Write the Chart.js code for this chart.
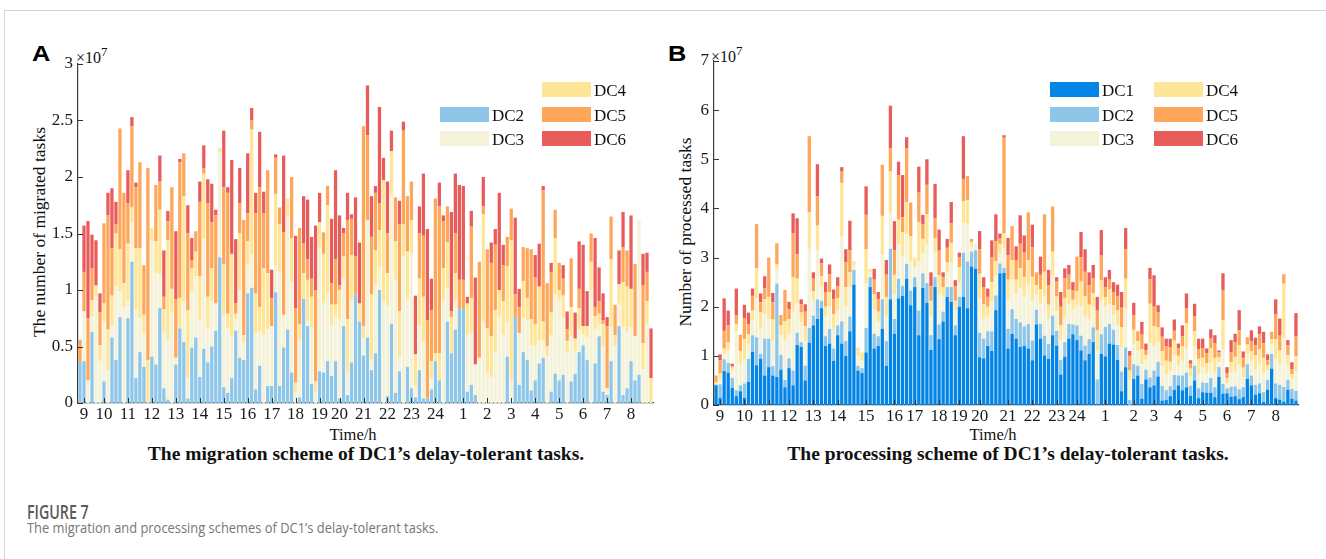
<!DOCTYPE html>
<html>
<head>
<meta charset="utf-8">
<script src="https://cdn.jsdelivr.net/npm/chart.js@4.4.0/dist/chart.umd.min.js"></script>
<style>
  body { margin: 0; background: #fff; width: 1326px; height: 559px; overflow: hidden; position: relative; font-family: 'Liberation Serif', serif; color: #111; }
  .t { position: absolute; white-space: nowrap; line-height: 1; }
  .panel { font-family: 'Liberation Sans', Arial, sans-serif; font-weight: bold; font-size: 22px; color: #000; transform: scaleX(1.15); transform-origin: left top; }
  .exp { font-size: 16px; }
  .exp span { font-size: 13px; position: relative; top: -7px; }
  .ytitle { font-size: 17.5px; transform: translate(-50%, -50%) rotate(-90deg); }
  .xtitle { font-size: 16.5px; transform: translateX(-50%); }
  .cap { font-size: 19.5px; font-weight: bold; transform: translateX(-50%); }
  .sw { position: absolute; width: 49px; height: 15px; }
  .lg { position: absolute; font-size: 17px; line-height: 15px; white-space: nowrap; }
  #frame { position: absolute; left: 4px; top: 10px; right: 0; bottom: 0; border-left: 1px solid #d4d4d4; border-top: 1px solid #d4d4d4; }
  .fig { position: absolute; left: 27px; font-family: 'Open Sans', sans-serif; color: #5a5a5a; white-space: nowrap; transform-origin: left top; }
  .box { position: absolute; }
</style>
</head>
<body>
<div id="frame"></div>

<div class="t panel" style="left:32px;top:43px">A</div>
<div class="t panel" style="left:668px;top:43px">B</div>

<div class="t exp" style="left:76px;top:50px">×10<span>7</span></div>
<div class="t exp" style="left:711px;top:49px">×10<span>7</span></div>

<div class="t ytitle" style="left:40px;top:232px">The number of migrated tasks</div>
<div class="t ytitle" style="left:686px;top:232px">Number of processed tasks</div>

<div class="t xtitle" style="left:353px;top:427px">Time/h</div>
<div class="t xtitle" style="left:993px;top:427px">Time/h</div>

<div class="t cap" style="left:366px;top:444px">The migration scheme of DC1’s delay-tolerant tasks.</div>
<div class="t cap" style="left:1008px;top:444px">The processing scheme of DC1’s delay-tolerant tasks.</div>

<div class="box" style="left:20px;top:44px;width:650px;height:426px"><canvas id="chartA" width="650" height="426"></canvas></div>
<div class="box" style="left:665px;top:44px;width:650px;height:426px"><canvas id="chartB" width="650" height="426"></canvas></div>

<div id="legendA"></div>
<div id="legendB"></div>

<div class="fig" style="top:499px;font-size:19px;font-weight:600;transform:scaleX(0.75)">FIGURE 7</div>
<div class="fig" style="top:517px;font-size:15px;color:#767676;transform:scaleX(0.86)">The migration and processing schemes of DC1’s delay-tolerant tasks.</div>

<script>
const hourNames = ['9','10','11','12','13','14','15','16','17','18','19','20','21','22','23','24','1','2','3','4','5','6','7','8'];
// which of the 144 ten-minute slots carries each hour label
const hourSlotsA = [1,6,12,18,24,30,36,42,48,54,60,65,71,77,83,89,96,102,108,114,120,126,132,138];
const hourSlotsB = [1,7,13,18,24,30,37,44,49,55,60,65,72,78,84,89,96,103,108,114,120,126,132,138];

const colDC1 = '#0485e6';
const colDC2 = '#8ec6ea';
const colDC3 = '#f4f3da';
const colDC4 = '#fee597';
const colDC5 = '#fea65a';
const colDC6 = '#e95c5c';

// ---- panel A: migrated tasks (x1e7) ----
const migDC2 = [
  .36,.37,0,.63,0,0,.19,0,.58,.38, .76,0,.75,1.25,.22,.45,.32,0,.41,.34,
  .84,.13,.03,0,.34,.66,.54,.04,.49,.58, .23,.48,.36,.50,.64,1.29,.14,.09,.22,.64,
  .40,.38,.97,1.02,.12,.33,0,.15, .15,.98,.15,.49,.65,.27,0,.05,.92,.68,
  .17,0,.28,.27,.37,.24,.37,.04,.68,.07, .36,.96,.72,.42,.58,.29,.44,1.00,0,.06,
  .70,.09,.28,0,.32,.13,.05,.29,.04,.04, .12,.37,.20,0,.72,.44,.65,.83,
  .84,.10,.16,.07,0,0,0,0,0,0, 0,.41,0,.76,.16,.45,.38,.11,.20,.35,
  .40,0,.10,.26,.20,.25,0,.19,.26,.45, .51,.38,0,.35,.59,.10,.07,.37,0,.68,
  .07,.13,.37,.20,.25,0,0,0
];
const migDC3 = [
  0,.44,.20,.14,.94,.37,.53,.29,.10,.65, .23,.85,.15,.35,.60,.30,.30,0,1.02,.81,
  .30,.50,.53,.80,.06,0,.35,.18,.50,.54, .50,.97,.30,.40,.24,.93,.64,.57,.37,.10,
  .60,.15,.25,.30,.50,.30,.60,.50, .53,.24,1.0,.29,1.0,.80,.09,.50,0,.04,
  .50,.10,1.10,.61,.60,.45,.40,.70,.42,.19, .55,0,0,.15,1.04,.09,.60,.20,.90,.80,
  1.14,1.00,.13,1.30,.60,1.20,.10,.40,.50,0, .10,0,0,.90,.30,0,.25,0,
  0,.50,.46,.27,.40,.72,.26,.23,.45,.76, .60,.30,.20,0,.46,.30,.35,.40,.30,.20,
  .15,.42,.50,.70,.70,.50,.45,.40,.20,.20, .10,.20,1.00,.30,.10,.40,.06,.30,.50,.20,
  .60,.50,.30,.39,1.37,.30,.70,0
];
const migDC4 = [
  0,0,0,.14,.10,.14,.16,.36,.27,.47, .37,.21,.51,.13,.55,.62,.16,.38,.12,.28,
  .57,.20,.88,.21,0,.27,.94,.60,.20,.22, .39,.58,.28,.29,0,.04,.45,.13,.73,.05,
  .50,.07,.21,1.10,.35,.22,.59,.50, 0,.63,.43,0,.16,.39,.09,.15,.23,.37,
  .27,.09,.22,.44,.78,.18,.10,.26,.20,.48, .40,0,.16,.11,0,.58,.31,.33,1.07,.29,
  .39,.34,.40,.28,.42,.29,.28,.41,.40,0, .15,.07,.24,.29,.40,.32,.25,0,
  0,.28,.31,0,0,.95,.40,.36,.37,.24, .30,.50,1.24,0,0,.33,.20,.23,.20,.48,
  .17,.08,.20,.50,.10,.20,.10,.26,.11,.19, .07,.10,.25,.12,.10,.20,0,.60,.10,.17,
  .40,.40,.34,0,0,.23,.20,.22
];
const migDC5 = [
  .20,.35,.55,.28,0,.29,.71,1.01,.42,.08, 1.07,.80,.36,.72,.54,.76,.44,1.70,0,.50,
  .25,.11,.17,.90,.52,1.20,.38,.68,.07,.18, .66,.05,.83,.41,.78,0,.68,1.07,0,.09,
  .27,1.02,.25,.08,.71,1.06,.49,.91, .25,.32,.15,.73,0,.54,.66,.85,.26,.18,
  .16,.81,0,.19,.17,.19,.40,.04,.20,.88, .32,.34,0,1.77,.75,.51,.51,.24,0,.35,
  0,.39,.77,.83,.49,.34,0,.40,.54,.69, .45,1.37,1.30,.42,.32,.05,.35,.26,
  .25,0,.63,0,.85,.07,.70,.65,.58,0, .32,.26,.28,.20,.23,.30,.44,.62,.41,0,
  1.16,.56,.36,.25,.24,.15,.10,.43,0,.17, 0,0,.25,.08,.11,.03,.55,.38,.27,0,
  .31,.32,0,.64,0,.51,.26,0
];
const migDC6 = [
  0,.41,.86,.30,.40,.17,0,.20,.53,.20, 0,0,.29,.08,.04,0,0,0,0,0,
  .23,.41,.09,0,.60,.03,0,.25,.20,0, .18,.20,.21,.34,.05,0,.50,.05,.83,.57,
  .31,0,.53,.11,.18,.49,.19,0, .25,.03,0,.68,0,0,.64,0,.42,.53,
  .37,.57,.26,0,0,.57,.79,.62,.05,.24, .04,.52,.54,0,.44,.36,.06,.85,.20,.46,
  .18,0,.21,.08,0,0,.52,.24,.55,.81, .28,0,.21,.05,0,.88,.53,.84,
  .83,.06,.14,.77,0,.26,0,.18,.14,.86, .18,0,0,.68,.16,0,0,0,.20,.38,
  .04,0,.08,0,0,.12,.16,0,.23,.42, .72,.31,0,.61,.30,.24,.08,0,0,.30,
  .31,0,.65,0,0,.28,.17,.44
];

// ---- panel B: processed tasks (x1e7) ----
const procDC1 = [
  .40,.15,.69,.66,.35,.18,.28,.15,.47,1.08, .81,.94,.60,.77,.60,.57,.72,.36,.75,.40,
  1.22,1.18,.50,1.27,1.62,1.75,1.97,1.20,1.25,.90, 1.42,1.25,1.00,1.50,2.45,.70,.65,1.07,2.40,1.15,
  1.20,1.55,.80,2.15,1.45,2.17,2.22,2.57,2.03,2.40, 1.42,2.38,2.08,1.12,2.40,1.34,1.70,2.20,2.10,1.42,
  2.00,2.20,1.97,2.82,2.77,.97,.95,1.20,1.10,1.93, 2.68,2.69,1.15,1.45,1.35,1.18,1.20,1.15,.91,1.64,
  1.35,1.01,.94,1.42,1.21,.62,.98,1.35,1.44,1.32, 1.11,.91,1.04,1.28,.02,1.04,.99,1.25,1.23,.92,
  .28,.77,0,.53,.60,.13,.52,.36,.40,.58, .09,.10,.18,.31,.40,.30,.36,.19,.50,.14,
  .26,.25,.25,.16,.57,.23,.24,.17,.18,.12, .16,.53,.40,.21,.24,.06,.31,.74,.14,.11,
  .07,.31,.13,.09
];
const procDC2 = [
  .02,.27,.24,.2,.2,.12,.12,.29,.47,.34, .57,.1,.75,.58,.19,1.9,.3,.15,.2,.3,
  .25,.1,.3,.3,.2,.4,.15,.2,.3,.25, .2,.45,.3,.3,.3,.1,.1,.5,.2,.3,
  .2,.6,.5,1.03,.3,.4,.2,.3,.3,.2, .5,.3,.4,.3,.2,.3,.2,.2,.3,.2,
  .2,.9,.95,.3,.38,.5,.4,.3,.4,.3, .2,.1,.4,.5,.4,.5,.4,.5,.4,.3,
  .3,.4,.3,.4,.3,.3,.3,.3,.2,.3, .3,.3,.3,.3,.5,.4,.6,.4,.3,.3,
  .4,.4,.1,.3,.2,.3,.2,.2,.3,.3, .3,.2,.2,.3,.2,.3,.3,.2,.3,.2,
  .2,.2,.3,.2,.2,.2,.1,.2,.2,.2, .2,.3,.2,.2,.2,.2,.2,.3,.3,.3,
  .3,.2,.2,.2
];
const procDC3 = [
  0,.1,.12,.25,.15,1.2,.42,.5,.3,.3, .8,.5,.5,.4,.5,.3,.4,.8,.5,1.2,
  .6,.4,.5,1.6,.3,1.0,.3,.4,.45,.4, .3,1.73,.7,.6,.1,.2,.15,.9,.1,.5,
  .3,.9,.5,.72,.5,.7,.6,.6,.6,.2, 1.0,.4,.8,.4,.5,.6,.3,.3,.5,.3,
  .3,.6,.75,.1,.13,.7,.4,.3,.6,.4, .2,.4,.6,.6,.5,.7,.6,.8,.8,.3,
  .4,.8,.5,.8,.4,.4,.5,.4,.3,.4, .6,.6,.4,.4,.6,.7,.4,.4,.3,.4,
  .5,.8,.4,.4,.3,.4,.2,.7,.5,.4, .4,.3,.3,.4,.2,.3,.5,.2,.4,.3,
  .3,.2,.3,.3,.1,.7,.1,.3,.3,.5, .2,.2,.3,.3,.4,.4,.2,.2,.5,.4,
  1.0,.3,.2,.4
];
const procDC4 = [
  .05,.13,.1,.16,.06,.15,.28,.4,.2,.2, .6,.35,.3,.45,.45,.1,.2,.4,.3,.7,
  .5,.2,.3,.75,.2,.5,.2,.2,.3,.3, .25,1.09,.4,.3,.08,.17,.17,.7,.07,.3,
  .2,.8,.4,.85,.4,.5,.5,.66,.5,.2, .8,.3,.6,.3,.3,.4,.2,.2,.4,.2,
  .3,.45,.5,.1,0,.5,.3,.2,.4,.3, .2,.3,.4,.4,.3,.4,.4,.5,.5,.2,
  .3,.5,.3,.5,.3,.3,.4,.3,.2,.3, .5,.4,.3,.3,.4,.4,.2,.3,.2,.3,
  .4,.6,.2,.3,.2,.3,.1,.8,.4,.3, .3,.3,.2,.3,.2,.3,.5,.15,.3,.3,
  .2,.2,.3,.3,.1,.6,.1,.2,.3,.4, .2,.2,.2,.3,.3,.3,.1,.1,.4,.3,
  1.1,.2,.1,.3
];
const procDC5 = [
  .13,.26,.36,.35,.03,.17,.33,.43,.2,.3, .9,.2,.22,.8,.35,.42,.21,.63,.2,.9,
  .5,.17,.3,1.55,.25,.6,.26,.3,.36,.3, .25,.23,.5,.45,0,0,0,.7,0,.3,
  .25,1.04,.45,.47,.5,.9,.3,1.09,.69,0, .6,.3,.6,.3,.4,.5,.2,.3,.4,.3,
  .2,.45,.49,.06,0,.5,.35,.2,.5,.4, .11,1.95,.5,.69,.4,.5,.5,.97,.6,.26,
  .3,1.17,.4,.92,.3,.38,.4,.3,.2,.7, .5,.5,.4,.3,.4,.5,.2,.2,.27,.3,
  .4,.6,.3,.3,.2,.3,.1,.5,.4,.3, .3,.3,.3,.2,.15,.2,.3,.1,.3,.2,
  .2,.2,.2,.3,.1,.6,.1,.2,.3,.3, .2,.15,.2,.2,.3,.3,.1,.15,.5,.3,
  .19,.2,.1,.4
];
const procDC6 = [
  0,.12,.66,.30,.05,.55,0,.27,.24,.15, 0,.18,.25,0,.19,0,0,0,.15,.4,
  .73,.1,.15,0,.13,.65,.1,.2,.2,.2, .18,.09,.27,.6,0,0,0,.58,0,.22,
  .15,0,.3,.87,.59,.28,.86,.23,0,0, .53,.19,.52,.28,.7,.43,.1,.18,.43,.12,
  .1,.87,0,0,0,.37,.2,.17,.35,.55, .1,.05,.35,0,.28,.58,.35,0,.46,0,
  .37,0,.31,0,.09,.3,.2,.2,.16,0, .51,.46,.26,.27,.28,.52,.21,.2,.2,.23,
  .32,.43,.1,.25,0,.26,.13,.23,.64,.15, .19,.15,.17,.23,.1,.22,.31,.07,.26,.21,
  .19,.1,.19,.16,.04,.35,.13,.25,.17,.41, .13,0,.22,.16,.16,.23,.12,0,.31,.35,
  0,.11,.14,.48
];

function slotLabels(slots) {
  const out = new Array(144).fill('');
  slots.forEach((s, k) => { out[s] = hourNames[k]; });
  return out;
}

// MATLAB style ticks pointing into the plot
const innerTicks = {
  id: 'innerTicks',
  afterDraw(chart) {
    const { ctx, scales: { x, y } } = chart;
    ctx.save();
    ctx.strokeStyle = '#333';
    ctx.lineWidth = 1;
    ctx.beginPath();
    y.ticks.forEach((t, i) => {
      const py = Math.round(y.getPixelForTick(i)) + 0.5;
      ctx.moveTo(x.left, py);
      ctx.lineTo(x.left + 5, py);
    });
    chart.data.labels.forEach((lab, i) => {
      if (!lab) return;
      const px = Math.round(x.getPixelForValue(i)) + 0.5;
      ctx.moveTo(px, y.bottom);
      ctx.lineTo(px, y.bottom - 5);
    });
    ctx.stroke();
    ctx.restore();
  }
};

const tickFont = { family: 'Liberation Serif', size: 17 };

function makeChart(id, labels, datasets, yMax, yWidth, pad) {
  return new Chart(document.getElementById(id), {
    type: 'bar',
    data: { labels, datasets },
    plugins: [innerTicks],
    options: {
      responsive: false,
      animation: false,
      devicePixelRatio: 1,
      layout: { padding: pad },
      plugins: { legend: { display: false }, tooltip: { enabled: false } },
      datasets: { bar: { barPercentage: 0.82, categoryPercentage: 1, borderWidth: 0 } },
      scales: {
        x: {
          stacked: true,
          grid: { display: false, drawTicks: false },
          border: { color: '#3a3a3a', width: 1.2 },
          ticks: { autoSkip: false, maxRotation: 0, padding: 1, color: '#1a1a1a', font: tickFont },
          afterFit(s) { s.height = 30; }
        },
        y: {
          stacked: true,
          min: 0,
          max: yMax,
          grid: { display: false, drawTicks: false },
          border: { color: '#3a3a3a', width: 1.2 },
          ticks: { stepSize: yMax === 3 ? 0.5 : 1, padding: 5, color: '#1a1a1a', font: tickFont, callback: v => String(v) },
          afterFit(s) { s.width = yWidth; }
        }
      }
    }
  });
}

makeChart('chartA', slotLabels(hourSlotsA), [
  { label: 'DC2', data: migDC2, backgroundColor: colDC2 },
  { label: 'DC3', data: migDC3, backgroundColor: colDC3 },
  { label: 'DC4', data: migDC4, backgroundColor: colDC4 },
  { label: 'DC5', data: migDC5, backgroundColor: colDC5 },
  { label: 'DC6', data: migDC6, backgroundColor: colDC6 }
], 3, 52, { left: 6, top: 20, right: 17, bottom: 37 });

makeChart('chartB', slotLabels(hourSlotsB), [
  { label: 'DC1', data: procDC1, backgroundColor: colDC1 },
  { label: 'DC2', data: procDC2, backgroundColor: colDC2 },
  { label: 'DC3', data: procDC3, backgroundColor: colDC3 },
  { label: 'DC4', data: procDC4, backgroundColor: colDC4 },
  { label: 'DC5', data: procDC5, backgroundColor: colDC5 },
  { label: 'DC6', data: procDC6, backgroundColor: colDC6 }
], 7, 42, { left: 7, top: 17, right: 17, bottom: 35 });

// legends, laid out in two columns like the original figure
function legend(host, items) {
  const el = document.getElementById(host);
  items.forEach(([name, color, x, y]) => {
    const sw = document.createElement('div');
    sw.className = 'sw';
    sw.style.left = x + 'px';
    sw.style.top = y + 'px';
    sw.style.background = color;
    el.appendChild(sw);
    const tx = document.createElement('div');
    tx.className = 'lg';
    tx.style.left = (x + 52) + 'px';
    tx.style.top = (y + 1) + 'px';
    tx.textContent = name;
    el.appendChild(tx);
  });
}
legend('legendA', [
  ['DC4', colDC4, 542, 82], ['DC2', colDC2, 440, 107], ['DC5', colDC5, 542, 107],
  ['DC3', colDC3, 440, 131], ['DC6', colDC6, 542, 131]
]);
legend('legendB', [
  ['DC1', colDC1, 1050, 82], ['DC4', colDC4, 1154, 82],
  ['DC2', colDC2, 1050, 107], ['DC5', colDC5, 1154, 107],
  ['DC3', colDC3, 1050, 131], ['DC6', colDC6, 1154, 131]
]);
</script>
</body>
</html>
